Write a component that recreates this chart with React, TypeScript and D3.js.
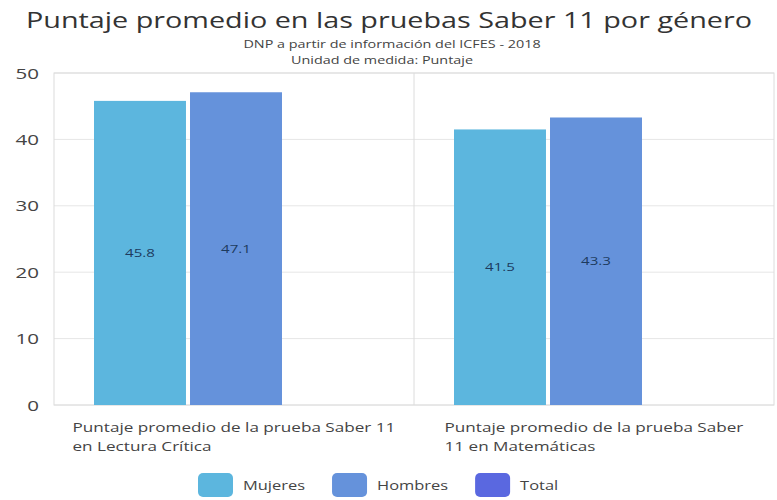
import React from "react";
import * as d3 from "d3";

const categories = [
  ["Puntaje promedio de la prueba Saber 11", "en Lectura Crítica"],
  ["Puntaje promedio de la prueba Saber", "11 en Matemáticas"],
];
const seriesNames = ["Mujeres", "Hombres", "Total"];
const mujeres = [45.8, 41.5];
const hombres = [47.1, 43.3];
const total: (number | null)[] = [null, null];
const yTicks = [0, 10, 20, 30, 40, 50];
const colors = ["#5cb6de", "#6592db", "#5a68e0"];

const FONT = "'Open Sans', 'Noto Sans', sans-serif";
const SX = 1.37;

function measure(text: string, size: number) {
  if (typeof document === "undefined") return text.length * size * 0.5;
  const c = document.createElement("canvas");
  const ctx = c.getContext("2d")!;
  ctx.font = `${size}px 'Open Sans'`;
  return ctx.measureText(text).width;
}

function T({ x, y, anchor = "start", size, fill = "#444", children }: any) {
  return (
    <text
      transform={`translate(${x},${y}) scale(${SX},1)`}
      textAnchor={anchor}
      fontSize={size}
      fill={fill}
    >
      {children}
    </text>
  );
}

export default function App() {
  const W = 777, H = 500;
  const left = 54, right = 774, top = 73, bottom = 405;
  const x0 = d3.scaleBand<number>().domain([0, 1]).range([left, right]);
  const x1 = d3
    .scaleBand<number>()
    .domain([0, 1, 2])
    .range([40, 40 + 92 * 3 + 8])
    .paddingInner(0.042);
  const y = d3.scaleLinear().domain([0, 50]).range([bottom, top]);
  const series = [mujeres, hombres, total];

  const catSize = 12.5;
  const legSize = 12;
  let lx = 198;
  const legendItems = seriesNames.map((n) => {
    const x = lx;
    const tw = measure(n, legSize) * SX;
    lx += 35 + 10 + tw + 27;
    return { n, x };
  });

  return (
    <svg
      width={W}
      height={H}
      style={{ position: "absolute", left: 0, top: 0, background: "#fff" }}
      fontFamily={FONT}
    >
      <T x={389} y={28} anchor="middle" size={21} fill="#333">
        Puntaje promedio en las pruebas Saber 11 por género
      </T>
      <T x={392} y={48} anchor="middle" size={10.5}>
        DNP a partir de información del ICFES - 2018
      </T>
      <T x={382} y={64} anchor="middle" size={10.5}>
        Unidad de medida: Puntaje
      </T>
      {yTicks.map((t) => (
        <g key={t}>
          <line x1={left} x2={right} y1={y(t)} y2={y(t)} stroke="#e6e6e6" />
          <T x={39} y={y(t) + 5.5} anchor="end" size={15}>
            {t}
          </T>
        </g>
      ))}
      <rect x={left} y={top} width={right - left} height={bottom - top} fill="none" stroke="#dcdcdc" />
      <line x1={x0(1)!} x2={x0(1)!} y1={top} y2={bottom} stroke="#dcdcdc" />
      {categories.map((c, i) => {
        const maxW = Math.max(...c.map((l) => measure(l, catSize))) * SX;
        const cx = x0(i)! + x0.bandwidth() / 2;
        return (
          <g key={i}>
            {series.map((s, j) => {
              const v = s[i];
              if (v == null) return null;
              const bx = x0(i)! + x1(j)!;
              return (
                <g key={j}>
                  <rect x={bx} y={y(v)} width={x1.bandwidth()} height={y(0) - y(v)} fill={colors[j]} />
                  <T x={bx + x1.bandwidth() / 2} y={(y(v) + y(0)) / 2 + 4} anchor="middle" size={11} fill="#1d3b5e">
                    {v.toFixed(1)}
                  </T>
                </g>
              );
            })}
            {c.map((line, k) => (
              <T key={k} x={cx - maxW / 2} y={432 + k * 18.5} size={catSize}>
                {line}
              </T>
            ))}
          </g>
        );
      })}
      {legendItems.map(({ n, x }, j) => (
        <g key={n}>
          <rect x={x} y={473} width={35} height={24} rx={5} fill={colors[j]} />
          <T x={x + 45} y={490} size={legSize}>
            {n}
          </T>
        </g>
      ))}
    </svg>
  );
}
